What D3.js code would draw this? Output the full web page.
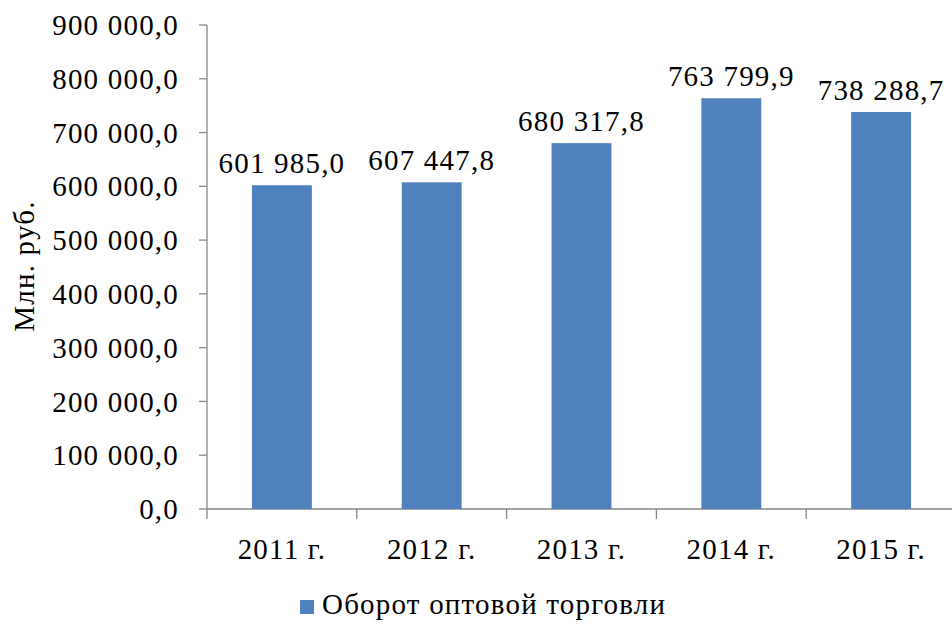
<!DOCTYPE html>
<html><head><meta charset="utf-8">
<script src="https://cdn.jsdelivr.net/npm/d3@7"></script>
<style>body{margin:0;background:#fff}svg{display:block}text{font-family:"Liberation Serif","Times New Roman",serif;fill:#000;letter-spacing:1.2px}</style>
</head><body>
<svg id="c" width="952" height="624"></svg>
<script>
const categories = ["2011 г.", "2012 г.", "2013 г.", "2014 г.", "2015 г."];
const values = [601985.0, 607447.8, 680317.8, 763799.9, 738288.7];
const yTicks = [0, 100000, 200000, 300000, 400000, 500000, 600000, 700000, 800000, 900000];
const seriesName = "Оборот оптовой торговли";
const yTitle = "Млн. руб.";

(function () {
const loc = d3.formatLocale({decimal: ",", thousands: "\u00a0", grouping: [3], currency: ["", ""]});
const fmt = loc.format(",.1f");

const svg = d3.select("#c");
const mLeft = 207, mRight = 956, mTop = 25, mBottom = 509;
const x = d3.scaleBand().domain(categories).range([mLeft, mRight]).paddingInner(0.6).paddingOuter(0.3);
const y = d3.scaleLinear().domain([0, 900000]).range([mBottom, mTop]);
const axisColor = "#868686";
const fs = 29;

// y axis
svg.append("line").attr("x1", mLeft).attr("x2", mLeft).attr("y1", y(900000)).attr("y2", mBottom)
  .attr("stroke", axisColor).attr("stroke-width", 1.3);
svg.selectAll(".yt").data(yTicks).join("line")
  .attr("x1", mLeft - 8).attr("x2", mLeft).attr("y1", d => y(d)).attr("y2", d => y(d))
  .attr("stroke", axisColor).attr("stroke-width", 1.3);
svg.selectAll(".yl").data(yTicks).join("text")
  .attr("x", 179).attr("y", d => y(d)).attr("dy", "0.35em").attr("text-anchor", "end")
  .attr("font-size", fs).text(d => fmt(d));

// x axis
svg.append("line").attr("x1", mLeft).attr("x2", mRight).attr("y1", mBottom).attr("y2", mBottom)
  .attr("stroke", axisColor).attr("stroke-width", 1.3);
const step = x.step();
const bounds = d3.range(categories.length + 1).map(i => mLeft + i * step);
svg.selectAll(".xt").data(bounds).join("line")
  .attr("x1", d => d).attr("x2", d => d).attr("y1", mBottom).attr("y2", mBottom + 10)
  .attr("stroke", axisColor).attr("stroke-width", 1.3);
svg.selectAll(".xl").data(categories).join("text")
  .attr("x", d => x(d) + x.bandwidth() / 2).attr("y", 559).attr("text-anchor", "middle")
  .attr("font-size", fs).text(d => d);

// bars
svg.selectAll(".bar").data(values).join("rect")
  .attr("x", (d, i) => x(categories[i])).attr("width", x.bandwidth())
  .attr("y", d => y(d)).attr("height", d => mBottom - y(d))
  .attr("fill", "#4F81BD");
svg.selectAll(".vl").data(values).join("text")
  .attr("x", (d, i) => x(categories[i]) + x.bandwidth() / 2).attr("y", d => y(d) - 12)
  .attr("text-anchor", "middle").attr("font-size", fs).text(d => fmt(d));

// y title
svg.append("text").attr("transform", "translate(34,266) rotate(-90)")
  .attr("text-anchor", "middle").attr("font-size", fs).text(yTitle);

// legend
svg.append("rect").attr("x", 300).attr("y", 600).attr("width", 14).attr("height", 14).attr("fill", "#4F81BD");
svg.append("text").attr("x", 322).attr("y", 614).attr("font-size", fs).text(seriesName);
})();
</script>
</body></html>
